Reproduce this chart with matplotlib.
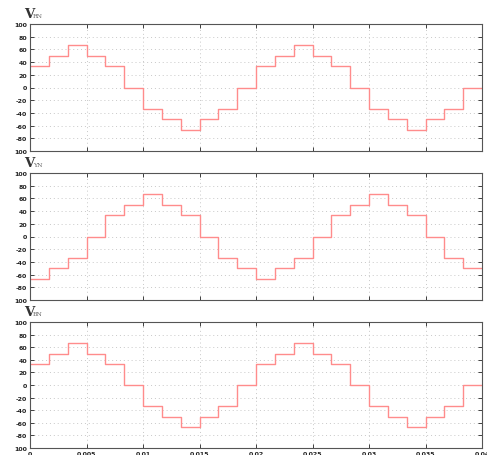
import numpy as np
import matplotlib
matplotlib.use('Agg')
import matplotlib.pyplot as plt

# step levels over one 20 ms period (12 steps of 1/600 s each)
STEP = 0.02 / 12
N_STEPS = 24

v_rn = [33.3, 50, 66.7, 50, 33.3, 0, -33.3, -50, -66.7, -50, -33.3, 0] * 2
v_yn = [-66.7, -50, -33.3, 0, 33.3, 50, 66.7, 50, 33.3, 0, -33.3, -50] * 2
v_bn = [33.3, 50, 66.7, 50, 33.3, 0, -33.3, -50, -66.7, -50, -33.3, 0] * 2

titles = ['RN', 'YN', 'BN']
series = [v_rn, v_yn, v_bn]

yticks = [100, 80, 60, 40, 20, 0, -20, -40, -60, -80, -100]
ytick_labels = ['100', '80', '60', '40', '20', '0', '-20', '-40', '-60', '-80', '100']
xticks = [0, 0.005, 0.01, 0.015, 0.02, 0.025, 0.03, 0.035, 0.04]
xtick_labels = ['0', '0.005', '0.01', '0.015', '0.02', '0.025', '0.03', '0.035', '0.04']

W, H = 487, 456
fig = plt.figure(figsize=(W / 100, H / 100), dpi=100)

# axes boxes in pixels: (left, top, right, bottom)
boxes = [(30, 25, 482, 152), (30, 174, 482, 301), (30, 323, 482, 449)]

t = np.arange(N_STEPS + 1) * STEP
for i, (name, vals) in enumerate(zip(titles, series)):
    l, tp, r, b = boxes[i]
    ax = fig.add_axes([l / W, 1 - b / H, (r - l) / W, (b - tp) / H])
    ax.step(t, list(vals) + [vals[-1]], where='post', color='#ff8c8c', lw=1.0)
    ax.set_xlim(0, 0.04)
    ax.set_ylim(-100, 100)
    ax.set_yticks(yticks)
    ax.set_yticklabels(ytick_labels)
    ax.set_xticks(xticks)
    if i == 2:
        ax.set_xticklabels(xtick_labels)
    else:
        ax.set_xticklabels([])
    ax.grid(True, color='#c8c8c8', linestyle=(0, (1, 3)), lw=0.7)
    ax.tick_params(direction='in', length=3, width=0.6, top=True, right=True,
                   labelsize=4.5, pad=2, colors='#222222')
    for lab in ax.get_xticklabels() + ax.get_yticklabels():
        lab.set_fontweight('bold')
    for sp in ax.spines.values():
        sp.set_color('#555555')
        sp.set_linewidth(0.8)

    ty = 1 - (tp - 7) / H
    fig.text(24 / W, ty, 'V', family='DejaVu Serif', fontsize=9.5, color='#333333',
             fontweight='bold', va='baseline', ha='left')
    fig.text(33 / W, ty, name, family='DejaVu Serif', fontsize=4.5, color='#666666',
             va='baseline', ha='left')

fig.savefig('out.png', dpi=100)
